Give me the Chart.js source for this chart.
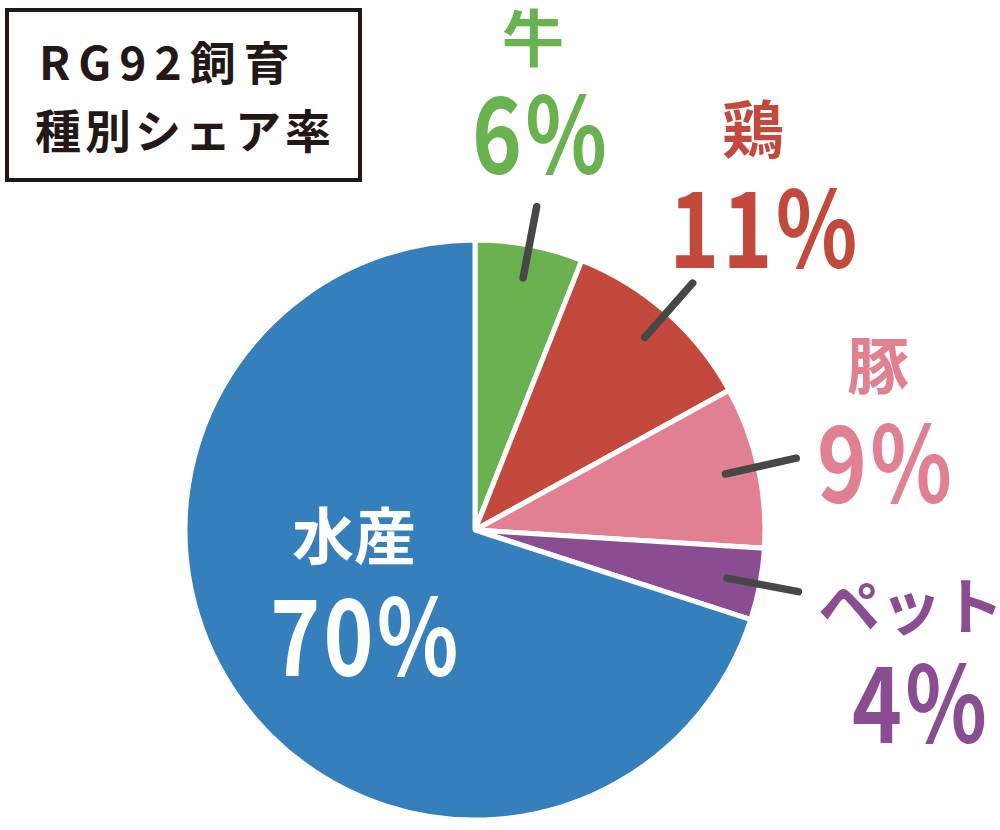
<!DOCTYPE html>
<html><head><meta charset="utf-8">
<script src="https://cdn.jsdelivr.net/npm/chart.js@4.4.1/dist/chart.umd.min.js"></script>
<style>
html,body{margin:0;padding:0;background:#fff;}
#wrap{position:relative;width:1000px;height:830px;overflow:hidden;}
#c{position:absolute;left:0;top:0;}
#title{position:absolute;left:5px;top:8px;width:357px;height:174px;border:4px solid #231815;box-sizing:border-box;background:#fff;
  font-family:"Noto Sans CJK JP","Noto Sans",sans-serif;font-weight:700;color:#231815;}
#title div{position:absolute;white-space:nowrap;line-height:1;}
#t1{left:30px;top:25px;font-size:46px;letter-spacing:8px;}
#t2{left:26px;top:93px;font-size:46px;letter-spacing:4px;}
</style></head>
<body>
<div id="wrap">
<canvas id="c" width="1000" height="830"></canvas>
<div id="title"><div id="t1">RG92飼育</div><div id="t2">種別シェア率</div></div>
</div>
<script>
const categories = ['牛', '鶏', '豚', 'ペット', '水産'];
const shares = [6, 11, 9, 4, 70];
const sliceColors = ['#6AB150', '#C3493C', '#E08090', '#8A4D91', '#3580BC'];
const labelColors = ['#6AB150', '#C3493C', '#E08090', '#8A4D91', '#FFFFFF'];
// label anchor offsets from the pie centre (layout only)
const nameOffsets = [[58,-492],[278,-401],[403,-164],[436,78],[-121,6]];
const valueOffsets = [[66,-396],[290,-302],[411,-67],[446,173],[-109,106]];
const leaderSlices = [0,1,2,3];

const FONT = '"Noto Sans CJK JP","Noto Sans",sans-serif';

function drawCentered(ctx, text, cx, cy, font, color, sx, spacing){
  ctx.save();
  ctx.font = font;
  if (spacing) ctx.letterSpacing = spacing + 'px';
  ctx.fillStyle = color;
  ctx.textAlign = 'center';
  ctx.textBaseline = 'alphabetic';
  const m = ctx.measureText(text);
  const by = cy + (m.actualBoundingBoxAscent - m.actualBoundingBoxDescent)/2;
  ctx.translate(cx, by);
  ctx.scale(sx, 1);
  ctx.fillText(text, 0, 0);
  ctx.restore();
}

const labelPlugin = {
  id: 'sliceLabels',
  afterDatasetsDraw(chart){
    const ctx = chart.ctx;
    const meta = chart.getDatasetMeta(0);
    const arcs = meta.data;
    const cx = arcs[0].x, cy = arcs[0].y;
    const R = arcs[0].outerRadius;
    ctx.save();
    ctx.strokeStyle = '#474747';
    ctx.lineWidth = 7.5;
    ctx.lineCap = 'round';
    leaderSlices.forEach(i => {
      const a = arcs[i];
      const mid = (a.startAngle + a.endAngle)/2;
      const r1 = R*0.885, r2 = R*1.135;
      ctx.beginPath();
      ctx.moveTo(cx + Math.cos(mid)*r1, cy + Math.sin(mid)*r1);
      ctx.lineTo(cx + Math.cos(mid)*r2, cy + Math.sin(mid)*r2);
      ctx.stroke();
    });
    ctx.restore();
    categories.forEach((name, i) => {
      const n = nameOffsets[i], v = valueOffsets[i];
      drawCentered(ctx, name, cx + n[0], cy + n[1], '700 62px ' + FONT, labelColors[i], 1, 0);
      drawCentered(ctx, shares[i] + '%', cx + v[0], cy + v[1], '700 106px ' + FONT, labelColors[i], 0.8, 4);
    });
  }
};

new Chart(document.getElementById('c'), {
  type: 'pie',
  data: {
    labels: categories,
    datasets: [{
      data: shares,
      backgroundColor: sliceColors,
      borderColor: '#FFFFFF',
      borderWidth: 5
    }]
  },
  options: {
    responsive: false,
    animation: false,
    layout: { padding: { left: 182.5, top: 237.5, right: 232.5, bottom: 7.5 } },
    plugins: { legend: { display: false }, tooltip: { enabled: false }, title: { display: false } }
  },
  plugins: [labelPlugin]
});
</script>
</body></html>
